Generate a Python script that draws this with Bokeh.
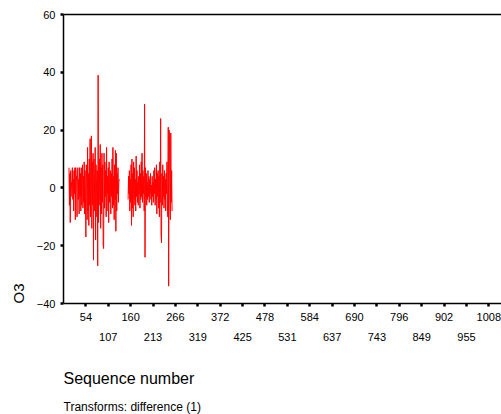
from bokeh.plotting import figure
from bokeh.models import LinearAxis, FixedTicker, Title, Range1d
from bokeh.embed import file_html
from bokeh.resources import INLINE

FONT = "Liberation Sans"

# ---- data ----
seg1_start = 14
seg1 = [7, -6, 5, -12, 6, -3, 2, 1, 7, -4,
        3, -8, 6, -2, 7, -11, 7, 3, 4, -10,
        6, 7, -4, 3, -9, 7, -3, 5, -8, 7,
        -6, 2, 8, -7, 4, -5, 9, -9, 6, -3,
        -17, 8, 3, -11, 14, -8, 5, -13, 10, -6,
        17, -10, 4, 18, -14, 9, -6, 12, -25, 10,
        5, -8, 14, -18, 8, 2, -10, 6, -27, 39,
        -12, 4, 10, -6, 15, -14, 7, -9, 12, -5,
        8, -20, -21, 12, -7, 9, -3, 6, -10, 14,
        -8, 4, -2, 7, -12, 9, -5, 3, 6, -9,
        5, -3, 10, -7, 14, -6, 4, -11, 8, -4,
        13, -15, 12, -8, 5, -2, 7, -5, 2, 3]
seg2_start = 154
seg2 = [-4, 4, -2, 6, -8, 3, -5, 8, -13, 10,
        -7, 5, -10, 9, -4, 7, -6, 3, -8, 11,
        -3, 6, -5, 2, -6, 4, -2, 8, -7, 5,
        -4, 9, -3, 12, -5, 6, -2, 4, -8, 29,
        -24, 7, -3, 5, -6, 2, -4, 6, -3, 4,
        -5, 3, -2, 5, -4, 1, -6, 4, -3, 2,
        -5, 6, -2, 7, -6, 3, -4, 8, -9, 5,
        -3, 6, -7, 4, -10, 9, -5, 24, -16, -19,
        5, -6, 8, -3, 4, -7, 6, -4, 3, -8,
        5, -2, 9, -6, -10, 21, -34, 20, 18, -7,
        -11, 19, -5, 6, -8]

x_ticks = [54, 107, 160, 213, 266, 319, 372, 425, 478, 531,
           584, 637, 690, 743, 796, 849, 902, 955, 1008]
y_ticks = [-40, -20, 0, 20, 40, 60]

nan = float("nan")
xs = list(range(seg1_start, seg1_start + len(seg1))) + [nan] + \
     list(range(seg2_start, seg2_start + len(seg2)))
ys = seg1 + [nan] + seg2

p = figure(width=501, height=414, x_range=Range1d(1, 1038), y_range=Range1d(-40, 60),
           output_backend="svg", toolbar_location=None,
           min_border_left=63, min_border_right=0, min_border_top=14, min_border_bottom=111)
p.grid.visible = False
p.outline_line_color = None
p.background_fill_color = "white"
p.border_fill_color = "white"

p.line(xs, ys, line_color="red", line_width=1.0)

# y axis
ya = p.yaxis[0]
ya.ticker = FixedTicker(ticks=y_ticks)
ya.major_tick_in = 0
ya.major_tick_out = 3
ya.major_tick_line_width = 2.5
ya.minor_tick_line_color = None
ya.axis_line_width = 1.5
ya.major_label_standoff = 5
ya.major_label_text_font = FONT
ya.major_label_text_font_size = "11px"
ya.major_label_text_color = "black"

# x axis row 1
xa = p.xaxis[0]
xa.ticker = FixedTicker(ticks=x_ticks)
xa.major_label_overrides = {t: (str(t) if i % 2 == 0 else "") for i, t in enumerate(x_ticks)}
xa.major_tick_in = 0
xa.major_tick_out = 3
xa.major_tick_line_width = 2.5
xa.minor_tick_line_color = None
xa.axis_line_width = 1.5
xa.major_label_standoff = 6
xa.major_label_text_font = FONT
xa.major_label_text_font_size = "11px"
xa.major_label_text_color = "black"

# x axis row 2 (labels only)
xb = LinearAxis(ticker=FixedTicker(ticks=x_ticks))
xb.major_label_overrides = {t: (str(t) if i % 2 == 1 else "") for i, t in enumerate(x_ticks)}
xb.axis_line_color = None
xb.major_tick_line_color = None
xb.minor_tick_line_color = None
xb.major_tick_in = 0
xb.major_tick_out = 0
xb.major_label_standoff = 9
xb.major_label_text_font = FONT
xb.major_label_text_font_size = "11px"
xb.major_label_text_color = "black"
p.add_layout(xb, "below")

# top border line
xt = LinearAxis(ticker=FixedTicker(ticks=[]))
xt.major_tick_line_color = None
xt.minor_tick_line_color = None
xt.major_label_text_color = None
xt.axis_line_width = 1.5
xt.major_label_standoff = 0
p.add_layout(xt, "above")

spacer = Title(text=" ", align="left", text_font=FONT, text_font_size="9px",
               text_font_style="normal", text_color="white", standoff=1)
p.add_layout(spacer, "below")
t1 = Title(text="Sequence number", align="left", text_font=FONT, text_font_size="16px",
           text_font_style="normal", text_color="black", standoff=22)
p.add_layout(t1, "below")
t2 = Title(text="Transforms: difference (1)", align="left", text_font=FONT,
           text_font_size="12px", text_font_style="normal", text_color="black", standoff=0)
p.add_layout(t2, "below")

ty = Title(text="O3", align="left", text_font=FONT, text_font_size="15px",
           text_font_style="normal", text_color="black", standoff=14)
p.add_layout(ty, "left")

open("out.html", "w").write(file_html(p, INLINE))
